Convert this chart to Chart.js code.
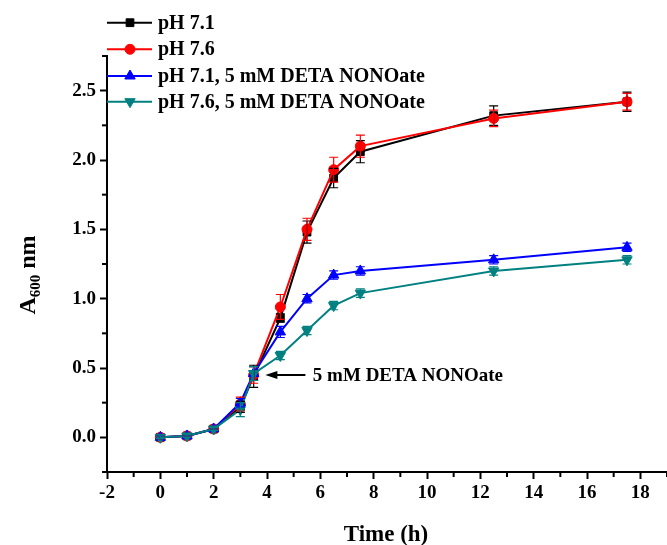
<!DOCTYPE html>
<html><head><meta charset="utf-8">
<script src="https://cdn.jsdelivr.net/npm/chart.js@4.4.1/dist/chart.umd.min.js"></script>
<style>html,body{margin:0;padding:0;background:#fff}#wrap{width:667px;height:545px}</style>
</head><body><div id="wrap"><canvas id="c" width="667" height="545"></canvas></div>
<script>
// ---- data ----
const timeH = [0, 1, 2, 3, 3.5, 4.5, 5.5, 6.5, 7.5, 12.5, 17.5];
const seriesNames = ['pH 7.1', 'pH 7.6', 'pH 7.1, 5 mM DETA NONOate', 'pH 7.6, 5 mM DETA NONOate'];
const ph71      = [0.00, 0.01, 0.06, 0.22, 0.44, 0.86, 1.48, 1.87, 2.06, 2.32, 2.42];
const ph71Err   = [0.01, 0.01, 0.01, 0.04, 0.08, 0.03, 0.08, 0.07, 0.08, 0.07, 0.07];
const ph76      = [0.00, 0.01, 0.06, 0.24, 0.45, 0.94, 1.50, 1.93, 2.10, 2.30, 2.42];
const ph76Err   = [0.01, 0.01, 0.01, 0.05, 0.06, 0.09, 0.08, 0.09, 0.08, 0.06, 0.06];
const ph71NO    = [0.00, 0.01, 0.06, 0.25, 0.46, 0.76, 1.00, 1.17, 1.20, 1.28, 1.37];
const ph71NOErr = [0.01, 0.01, 0.01, 0.03, 0.05, 0.04, 0.03, 0.03, 0.03, 0.03, 0.03];
const ph76NO    = [0.00, 0.01, 0.06, 0.20, 0.46, 0.59, 0.77, 0.95, 1.04, 1.20, 1.28];
const ph76NOErr = [0.01, 0.01, 0.01, 0.05, 0.05, 0.03, 0.03, 0.03, 0.03, 0.03, 0.03];
const xTickValues = [-2, 0, 2, 4, 6, 8, 10, 12, 14, 16, 18];
const xMinorValues = [-1, 1, 3, 5, 7, 9, 11, 13, 15, 17, 19];
const yTickValues = [0, 0.5, 1.0, 1.5, 2.0, 2.5];
const yMinorValues = [-0.25, 0.25, 0.75, 1.25, 1.75, 2.25, 2.75];
const annotationText = '5 mM DETA NONOate';
const annotationArrow = {fromX: 5.44, toX: 3.94, y: 0.45, textX: 5.72};

// ---- styles ----
const FONT = '"Liberation Serif", "Times New Roman", serif';
const colors = ['#000000', '#ff0000', '#0000ff', '#008080'];
const styles = [
  {pointStyle: 'rect', radius: 5.5, rotation: 0},
  {pointStyle: 'circle', radius: 5, rotation: 0},
  {pointStyle: 'triangle', radius: 6, rotation: 0},
  {pointStyle: 'triangle', radius: 6, rotation: 180}
];
const values = [ph71, ph76, ph71NO, ph76NO];
const errors = [ph71Err, ph76Err, ph71NOErr, ph76NOErr];

const datasets = values.map((vals, i) => ({
  label: seriesNames[i],
  data: timeH.map((t, j) => ({x: t, y: vals[j]})),
  errs: errors[i],
  borderColor: colors[i],
  backgroundColor: colors[i],
  pointBackgroundColor: colors[i],
  pointBorderColor: colors[i],
  borderWidth: 2,
  pointStyle: styles[i].pointStyle,
  pointRadius: styles[i].radius,
  pointRotation: styles[i].rotation,
  pointBorderWidth: 1,
  tension: 0,
  order: 4 - i,
  clip: false
}));

function drawMarker(ctx, st, x, y, color) {
  ctx.save();
  ctx.fillStyle = color; ctx.strokeStyle = color; ctx.lineWidth = 1;
  if (Chart.helpers && Chart.helpers.drawPoint) {
    Chart.helpers.drawPoint(ctx, {pointStyle: st.pointStyle, radius: st.radius, rotation: st.rotation, borderWidth: 1}, x, y);
  }
  ctx.restore();
}

const customPlugin = {
  id: 'custom',
  afterDatasetsDraw(chart) {
    const ctx = chart.ctx, xs = chart.scales.x, ys = chart.scales.y;
    chart.data.datasets.forEach((ds, i) => {
      ctx.save();
      ctx.strokeStyle = ds.borderColor; ctx.lineWidth = 1.2;
      ds.data.forEach((p, j) => {
        const e = ds.errs[j];
        const px = xs.getPixelForValue(p.x);
        const y1 = ys.getPixelForValue(p.y - e), y2 = ys.getPixelForValue(p.y + e);
        ctx.beginPath();
        ctx.moveTo(px, y1); ctx.lineTo(px, y2);
        ctx.moveTo(px - 4.5, y1); ctx.lineTo(px + 4.5, y1);
        ctx.moveTo(px - 4.5, y2); ctx.lineTo(px + 4.5, y2);
        ctx.stroke();
      });
      ctx.restore();
    });
  },
  afterDraw(chart) {
    const ctx = chart.ctx, xs = chart.scales.x, ys = chart.scales.y, ca = chart.chartArea;
    ctx.save();
    ctx.strokeStyle = '#000'; ctx.lineWidth = 2;
    xMinorValues.forEach(v => {
      const px = xs.getPixelForValue(v);
      ctx.beginPath(); ctx.moveTo(px, ca.bottom); ctx.lineTo(px, ca.bottom + 5); ctx.stroke();
    });
    yMinorValues.forEach(v => {
      const py = ys.getPixelForValue(v);
      ctx.beginPath(); ctx.moveTo(ca.left, py); ctx.lineTo(ca.left - 5, py); ctx.stroke();
    });
    ctx.fillStyle = '#000';
    ctx.font = 'bold 23px ' + FONT;
    ctx.textAlign = 'center'; ctx.textBaseline = 'alphabetic';
    ctx.fillText('Time (h)', 386, 541);
    ctx.save();
    ctx.translate(35, 275);
    ctx.rotate(-Math.PI / 2);
    const big = 'bold 24px ' + FONT, small = 'bold 15px ' + FONT;
    ctx.font = big; const wA = ctx.measureText('A').width; const wNm = ctx.measureText(' nm').width;
    ctx.font = small; const wSub = ctx.measureText('600').width;
    const total = wA + wSub + wNm;
    let cx = -total / 2;
    ctx.textAlign = 'left';
    ctx.font = big; ctx.fillText('A', cx, 0); cx += wA;
    ctx.font = small; ctx.fillText('600', cx, 5); cx += wSub;
    ctx.font = big; ctx.fillText(' nm', cx, 0);
    ctx.restore();
    const ay = ys.getPixelForValue(annotationArrow.y);
    const ax1 = xs.getPixelForValue(annotationArrow.fromX), ax2 = xs.getPixelForValue(annotationArrow.toX);
    ctx.strokeStyle = '#000'; ctx.lineWidth = 2;
    ctx.beginPath(); ctx.moveTo(ax1, ay); ctx.lineTo(ax2 + 8, ay); ctx.stroke();
    ctx.beginPath(); ctx.moveTo(ax2, ay); ctx.lineTo(ax2 + 12, ay - 4); ctx.lineTo(ax2 + 12, ay + 4); ctx.closePath(); ctx.fill();
    ctx.font = 'bold 19px ' + FONT; ctx.textAlign = 'left'; ctx.textBaseline = 'middle';
    ctx.fillText(annotationText, xs.getPixelForValue(annotationArrow.textX), ay + 1);
    const legY = [22.7, 49.3, 76, 101.7];
    chart.data.datasets.forEach((ds, i) => {
      const y = legY[i];
      ctx.strokeStyle = ds.borderColor; ctx.lineWidth = 2;
      ctx.beginPath(); ctx.moveTo(107, y); ctx.lineTo(152, y); ctx.stroke();
      drawMarker(ctx, styles[i], 130, y, ds.borderColor);
      ctx.fillStyle = '#000';
      ctx.font = 'bold 20px ' + FONT; ctx.textAlign = 'left'; ctx.textBaseline = 'middle';
      ctx.fillText(ds.label, 158, y + 1);
    });
    ctx.restore();
  }
};

new Chart(document.getElementById('c'), {
  type: 'line',
  data: {datasets},
  options: {
    responsive: false,
    devicePixelRatio: 1,
    animation: false,
    layout: {autoPadding: false, padding: {top: 56, left: 0, right: 0, bottom: 0}},
    plugins: {legend: {display: false}, tooltip: {enabled: false}},
    scales: {
      x: {
        type: 'linear', min: -2, max: 19,
        afterBuildTicks: s => { s.ticks = xTickValues.map(v => ({value: v})); },
        afterFit: s => { s.height = 73; s.paddingLeft = 0; s.paddingRight = 0; },
        ticks: {color: '#000', font: {family: FONT, size: 19, weight: 'bold'}, padding: 3, maxRotation: 0, autoSkip: false, callback: v => String(v)},
        grid: {display: true, drawOnChartArea: false, drawTicks: true, tickLength: 7, tickWidth: 2, tickColor: '#000'},
        border: {display: true, color: '#000', width: 2}
      },
      y: {
        type: 'linear', min: -0.25, max: 2.75,
        afterBuildTicks: s => { s.ticks = yTickValues.map(v => ({value: v})); },
        afterFit: s => { s.width = 107; s.paddingTop = 0; s.paddingBottom = 0; },
        ticks: {color: '#000', font: {family: FONT, size: 19, weight: 'bold'}, padding: 4, autoSkip: false, callback: v => Number(v).toFixed(1)},
        grid: {display: true, drawOnChartArea: false, drawTicks: true, tickLength: 7, tickWidth: 2, tickColor: '#000'},
        border: {display: true, color: '#000', width: 2}
      }
    }
  },
  plugins: [customPlugin]
});
</script>
</body></html>
